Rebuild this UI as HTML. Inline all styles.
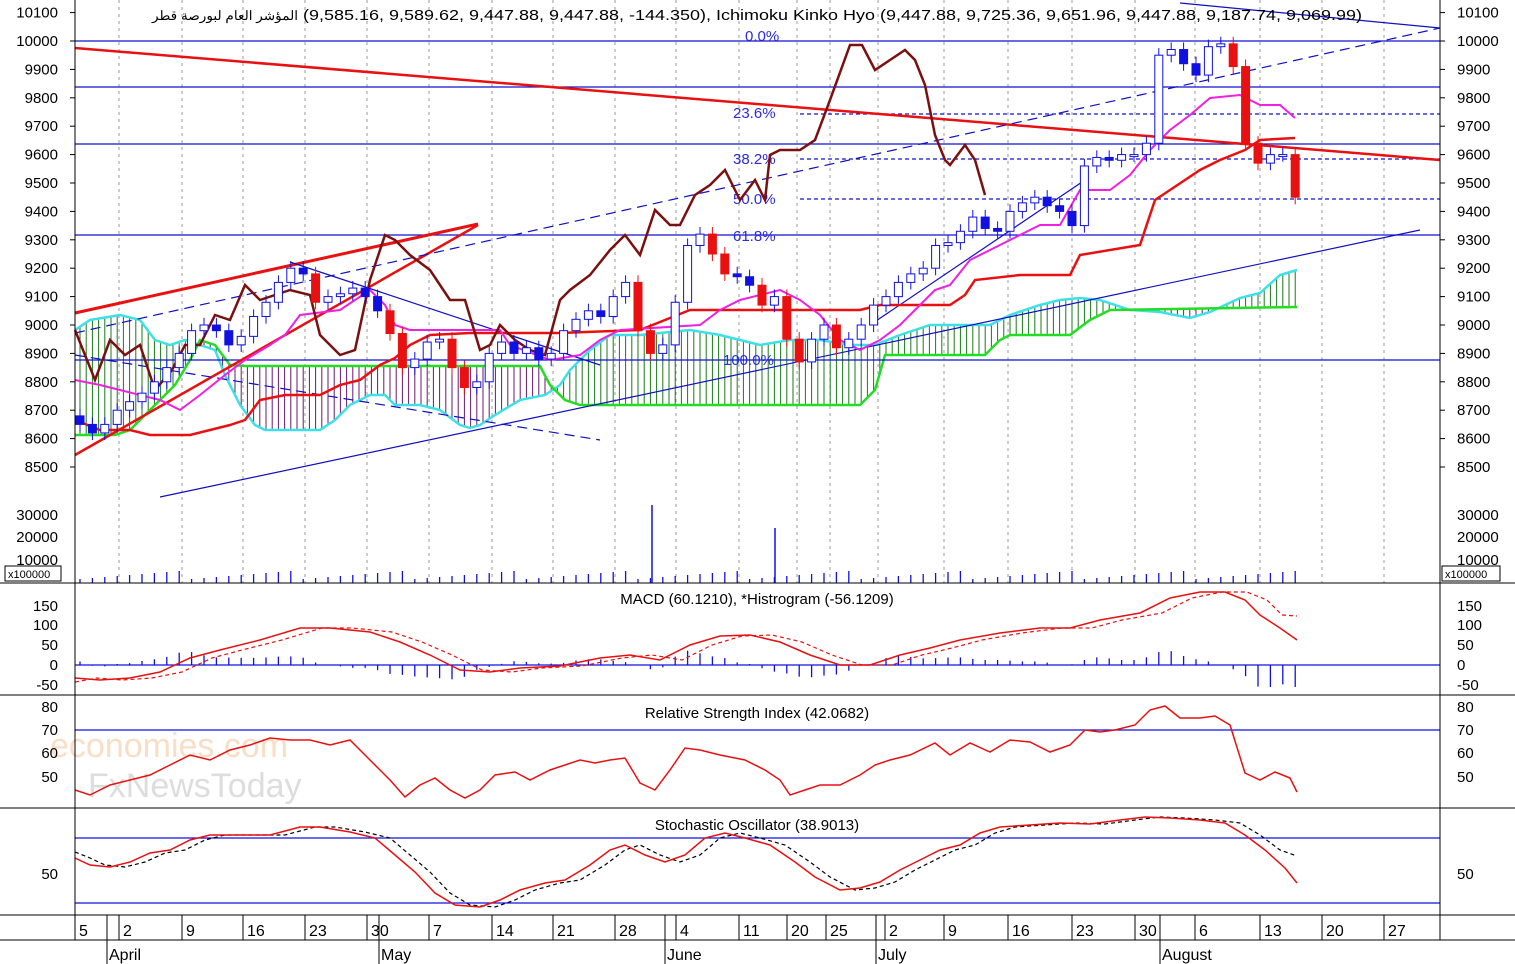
<!DOCTYPE html>
<html><head><meta charset="utf-8"><style>
body{margin:0;background:#fff}
svg{display:block;font-family:"Liberation Sans","Noto Sans CJK SC",sans-serif}
</style></head><body>
<svg id="s" width="1515" height="964" viewBox="0 0 1515 964" xmlns="http://www.w3.org/2000/svg">
<rect width="1515" height="964" fill="#fff"/>
</svg>
<script>
const S=document.getElementById('s');let h='';
const pl=(p,c,w,extra)=>{h+=`<polyline points="${p.map(a=>a.join(',')).join(' ')}" fill="none" stroke="${c}" stroke-width="${w}" ${extra||''}/>`};
const ln=(x1,y1,x2,y2,c,w,extra)=>{h+=`<line x1="${x1}" y1="${y1}" x2="${x2}" y2="${y2}" stroke="${c}" stroke-width="${w}" ${extra||''}/>`};
const tx=(x,y,t,sz,c,anc,extra)=>{h+=`<text x="${x}" y="${y}" font-size="${sz}" fill="${c}" text-anchor="${anc||'start'}" ${extra||''}>${t}</text>`};
const yp=p=>41+(10000-p)*0.284;
const interp=(pts,x)=>{for(let i=0;i<pts.length-1;i++){if(x>=pts[i][0]&&x<=pts[i+1][0]){const t=(x-pts[i][0])/(pts[i+1][0]-pts[i][0]||1);return pts[i][1]+t*(pts[i+1][1]-pts[i][1]);}}return null;};
const gx=[119,182,243,305,367,429,492,553,615,676,739,797,830,878,944,1008,1072,1135,1195,1260,1322,1384];
gx.forEach(x=>ln(x,0,x,583,'#999',1,'stroke-dasharray="3,4"'));
const A=[[75,330],[90,320],[120,315],[140,320],[155,340],[170,345],[185,340],[200,345],[215,350],[225,375],[240,405],[255,425],[265,430],[320,430],[335,420],[350,405],[370,395],[385,395],[395,405],[420,405],[440,410],[460,425],[470,428],[480,425],[495,415],[520,400],[545,395],[560,385],[570,370],[590,350],[610,335],[640,335],[690,330],[720,335],[760,345],[790,340],[820,340],[850,345],[875,345],[900,335],[930,325],[960,325],[990,325],[1010,315],[1040,305],[1060,300],[1080,298],[1100,300],[1130,310],[1160,312],[1190,318],[1210,312],[1240,298],[1260,293],[1280,275],[1297,270]];
const B=[[75,435],[115,435],[130,430],[150,410],[175,385],[190,360],[200,340],[215,345],[230,365],[245,366],[540,366],[550,385],[565,400],[580,405],[640,405],[860,405],[875,390],[885,355],[985,355],[1000,340],[1010,335],[1070,335],[1090,320],[1110,310],[1297,307]];
for(let x=80;x<=1296;x+=6.2){const a=interp(A,x),b=interp(B,x);if(a==null||b==null)continue;ln(x,a,x,b,a<b?'#1a7a1a':'#6a1a6a',1);}
pl(A,'#3ee0e8',2.5);pl(B,'#22dd22',2.5);
[41,87,144,235,360].forEach(y=>ln(75,y,1440,y,'#1010d0',1.3));
[114,159,199].forEach(y=>ln(800,y,1440,y,'#1010d0',1.2,'stroke-dasharray="4,3"'));
[[745,41,'0.0%'],[733,118,'23.6%'],[733,164,'38.2%'],[733,204,'50.0%'],[733,241,'61.8%'],[723,365,'100.0%']].forEach(a=>tx(a[0],a[1],a[2],15,'#2a2ae0'));
ln(75,48,1440,160,'#e81010',2.5);
ln(75,313,478,224,'#e81010',3);ln(75,455,478,225,'#e81010',2.5);
ln(75,333,1440,28,'#1010c0',1.2,'stroke-dasharray="10,6"');
ln(160,497,1420,230,'#1010c0',1.2);
ln(75,355,600,440,'#1010c0',1.2,'stroke-dasharray="10,6"');
ln(290,262,600,365,'#1010c0',1.2);
ln(870,325,1085,180,'#1010c0',1.2);
ln(1180,3,1440,28,'#1010c0',1.2);
pl([[75,420],[100,430],[130,430],[150,435],[190,435],[210,430],[230,425],[245,420],[260,400],[285,395],[320,395],[340,385],[360,380],[380,365],[395,358],[410,345],[430,335],[470,333],[560,333],[640,330],[690,310],[860,310],[880,305],[950,305],[965,295],[975,280],[1020,275],[1070,275],[1080,255],[1140,245],[1155,200],[1185,180],[1200,170],[1220,160],[1245,150],[1260,140],[1295,138]],'#e81010',2.5);
pl([[75,380],[100,385],[120,390],[140,395],[160,400],[180,410],[200,395],[225,375],[245,360],[270,345],[285,335],[300,315],[340,310],[355,300],[370,290],[385,305],[395,325],[410,330],[500,330],[510,345],[550,360],[580,355],[600,340],[620,330],[700,325],[720,310],[740,300],[780,290],[800,300],[820,315],[840,340],[860,350],[880,340],[900,325],[920,305],[935,290],[950,285],[970,260],[990,250],[1010,240],[1040,225],[1060,225],[1080,190],[1110,190],[1130,175],[1150,150],[1170,130],[1190,115],[1210,98],[1240,95],[1260,105],[1280,105],[1295,118]],'#f020e0',2);
pl([[75,330],[95,380],[110,340],[125,355],[140,345],[155,390],[172,370],[185,345],[200,345],[215,315],[230,320],[245,285],[260,300],[275,295],[290,290],[310,295],[320,335],[340,355],[355,350],[370,280],[385,235],[395,240],[410,255],[430,270],[450,300],[465,300],[480,350],[490,345],[500,325],[515,340],[530,350],[545,355],[560,300],[570,290],[590,275],[610,250],[625,235],[640,255],[655,210],[670,225],[680,225],[695,195],[710,185],[725,170],[740,200],[755,180],[765,200],[770,155],[780,150],[800,150],[815,140],[830,100],[850,45],[862,45],[875,70],[890,60],[905,50],[915,60],[925,85],[935,135],[945,160],[950,165],[965,145],[975,160],[985,195]],'#7a1010',2.5);
const C=[8650,8620,8650,8700,8730,8760,8800,8850,8900,8980,9000,8980,8930,8960,9030,9080,9150,9200,9180,9080,9100,9110,9130,9100,9050,8970,8850,8880,8940,8950,8850,8780,8800,8900,8940,8900,8920,8880,8900,8980,9020,9050,9030,9100,9150,8980,8900,8930,9080,9280,9320,9250,9180,9170,9140,9070,9100,8950,8870,8950,9000,8920,8950,9000,9070,9100,9150,9180,9200,9280,9290,9330,9380,9340,9330,9400,9430,9450,9420,9400,9350,9560,9590,9580,9600,9600,9640,9950,9970,9920,9880,9980,9990,9910,9640,9570,9600,9600,9450];
for(let i=0;i<C.length;i++){const x=80+i*12.4,o=i?C[i-1]:C[0]+30,c=C[i];const hi=Math.max(o,c)+25,lo=Math.min(o,c)-25;const y1=yp(Math.max(o,c)),y2=yp(Math.min(o,c));
 let col,fill;if(c>=o){col='#1010e0';fill='#fff'}else if(o-c>60){col='#e81010';fill='#e81010'}else{col='#1010e0';fill='#1010e0'}
 ln(x,yp(hi),x,yp(lo),col,1);h+=`<rect x="${x-4}" y="${y1}" width="8" height="${Math.max(2,y2-y1)}" fill="${fill}" stroke="${col}" stroke-width="1"/>`;
 const v=4+((i*37)%9);ln(x,583-v,x,583,'#1010e0',1.3);}
ln(652,505,652,583,'#1010e0',1.5);ln(775,528,775,583,'#1010e0',1.5);
const M=[[75,678],[100,680],[130,678],[160,672],[190,658],[220,650],[260,640],[300,628],[330,628],[370,632],[400,642],[430,655],[460,670],[490,672],[520,668],[560,666],[600,658],[630,655],[660,660],[690,645],[720,636],[750,635],[780,642],[810,655],[840,665],[870,665],[900,655],[930,648],[960,640],[1000,633],[1040,628],[1070,628],[1100,620],[1140,613],[1170,598],[1200,592],[1225,592],[1245,600],[1260,615],[1280,628],[1297,640]];
const Sg=M.map(p=>[p[0]+22,p[1]]).filter(p=>p[0]<=1297);Sg.unshift([75,682]);Sg.push([1297,616]);
for(let x=80;x<=1296;x+=12.4){const m=interp(M,x),s=interp(Sg,x);let d=(s-m)*1.3;d=Math.max(-22,Math.min(22,d));ln(x,665,x,665-d,'#1010e0',1.3);}
ln(75,665,1440,665,'#1010e0',1.3);
pl(M,'#e81010',1.5);pl(Sg,'#e81010',1.2,'stroke-dasharray="4,3"');
ln(75,730,1440,730,'#1010e0',1.2);
tx(50,757,'economies.com',34,'#f5c9a0','start','opacity="0.6"');
tx(88,797,'FxNewsToday',34,'#cfcfcf','start','opacity="0.7"');
pl([[75,790],[90,795],[110,785],[130,780],[150,775],[170,765],[190,755],[210,760],[230,750],[250,745],[270,738],[290,740],[310,740],[330,745],[350,740],[370,760],[390,780],[405,797],[420,785],[435,778],[450,790],[465,798],[480,790],[495,775],[515,772],[530,780],[550,770],[565,765],[580,760],[595,763],[610,760],[625,758],[640,783],[655,790],[670,770],[685,748],[700,750],[720,755],[745,760],[765,770],[780,780],[790,795],[805,790],[820,785],[840,785],[860,775],[875,765],[890,760],[910,755],[935,743],[950,755],[970,743],[990,752],[1010,740],[1030,742],[1050,752],[1070,745],[1085,730],[1100,732],[1115,730],[1135,725],[1150,710],[1165,706],[1180,718],[1200,718],[1215,716],[1230,725],[1245,773],[1260,780],[1275,772],[1290,778],[1297,792]],'#e81010',1.5);
ln(75,838,1440,838,'#1010e0',1.2);ln(75,903,1440,903,'#1010e0',1.2);
const K=[[75,858],[90,865],[110,867],[130,862],[150,853],[170,850],[190,840],[210,835],[240,835],[270,835],[300,827],[320,827],[350,832],[375,838],[395,855],[415,872],[435,893],[455,905],[480,907],[500,900],[520,890],[545,883],[565,880],[590,865],[610,850],[625,845],[645,855],[665,862],[685,855],[705,838],[725,833],[745,838],[770,845],[795,862],[815,877],[840,890],[860,888],[880,882],[900,870],[920,860],[940,850],[960,845],[980,833],[1000,827],[1030,825],[1060,823],[1090,824],[1120,820],[1145,817],[1170,818],[1200,820],[1225,823],[1245,835],[1265,850],[1285,868],[1297,883]];
const D=K.map(p=>[p[0]+15,p[1]]).filter(p=>p[0]<=1297);D.unshift([75,852]);D.push([1297,856]);
pl(D,'#000',1.2,'stroke-dasharray="4,3"');pl(K,'#e81010',1.5);
[583,695,808,915,940].forEach(y=>ln(0,y,1515,y,'#000',1));
ln(75,0,75,940,'#000',1);ln(1440,0,1440,940,'#000',1);
const pr=[10100,10000,9900,9800,9700,9600,9500,9400,9300,9200,9100,9000,8900,8800,8700,8600,8500];
pr.forEach(p=>{const y=yp(p)+5;tx(58,y,p,15,'#000','end');tx(1457,y,p,15,'#000');ln(70,y-5,75,y-5,'#000',1);ln(1440,y-5,1445,y-5,'#000',1);});
[[520,'30000'],[542,'20000'],[565,'10000']].forEach(a=>{tx(58,a[0],a[1],15,'#000','end');tx(1457,a[0],a[1],15,'#000');});
h+=`<rect x="5" y="566" width="56" height="15" fill="#fff" stroke="#000"/><rect x="1442" y="566" width="58" height="15" fill="#fff" stroke="#000"/>`;
tx(8,578,'x100000',11,'#000');tx(1445,578,'x100000',11,'#000');
[[611,150],[630,100],[650,50],[670,0],[690,-50]].forEach(a=>{tx(58,a[0],a[1],15,'#000','end');tx(1457,a[0],a[1],15,'#000');});
[[712,80],[735,70],[758,60],[782,50]].forEach(a=>{tx(58,a[0],a[1],15,'#000','end');tx(1457,a[0],a[1],15,'#000');});
tx(58,879,'50',15,'#000','end');tx(1457,879,'50',15,'#000');
tx(757,604,'MACD (60.1210), *Histrogram (-56.1209)',15,'#000','middle');
tx(757,718,'Relative Strength Index (42.0682)',15,'#000','middle');
tx(757,830,'Stochastic Oscillator (38.9013)',15,'#000','middle');
tx(152,20,'المؤشر العام لبورصة قطر',13,'#000','start','textLength="146" lengthAdjust="spacingAndGlyphs"');
tx(303,20,'(9,585.16, 9,589.62, 9,447.88, 9,447.88, -144.350), Ichimoku Kinko Hyo (9,447.88, 9,725.36, 9,651.96, 9,447.88, 9,187.74, 9,069.99)',14.5,'#000','start','textLength="1059" lengthAdjust="spacingAndGlyphs"');
const xl=[[75,'5'],[119,'2'],[182,'9'],[243,'16'],[305,'23'],[367,'30'],[429,'7'],[492,'14'],[553,'21'],[615,'28'],[676,'4'],[739,'11'],[787,'20'],[826,'25'],[885,'2'],[944,'9'],[1008,'16'],[1072,'23'],[1135,'30'],[1195,'6'],[1260,'13'],[1322,'20'],[1384,'27']];
xl.forEach(a=>{ln(a[0],915,a[0],940,'#000',1);tx(a[0]+4,936,a[1],16,'#000');});
[[107,'April'],[379,'May'],[665,'June'],[876,'July'],[1160,'August']].forEach(a=>{ln(a[0],915,a[0],964,'#000',1);tx(a[0]+2,960,a[1],16,'#000');});
S.innerHTML+=h;
</script>
</body></html>
